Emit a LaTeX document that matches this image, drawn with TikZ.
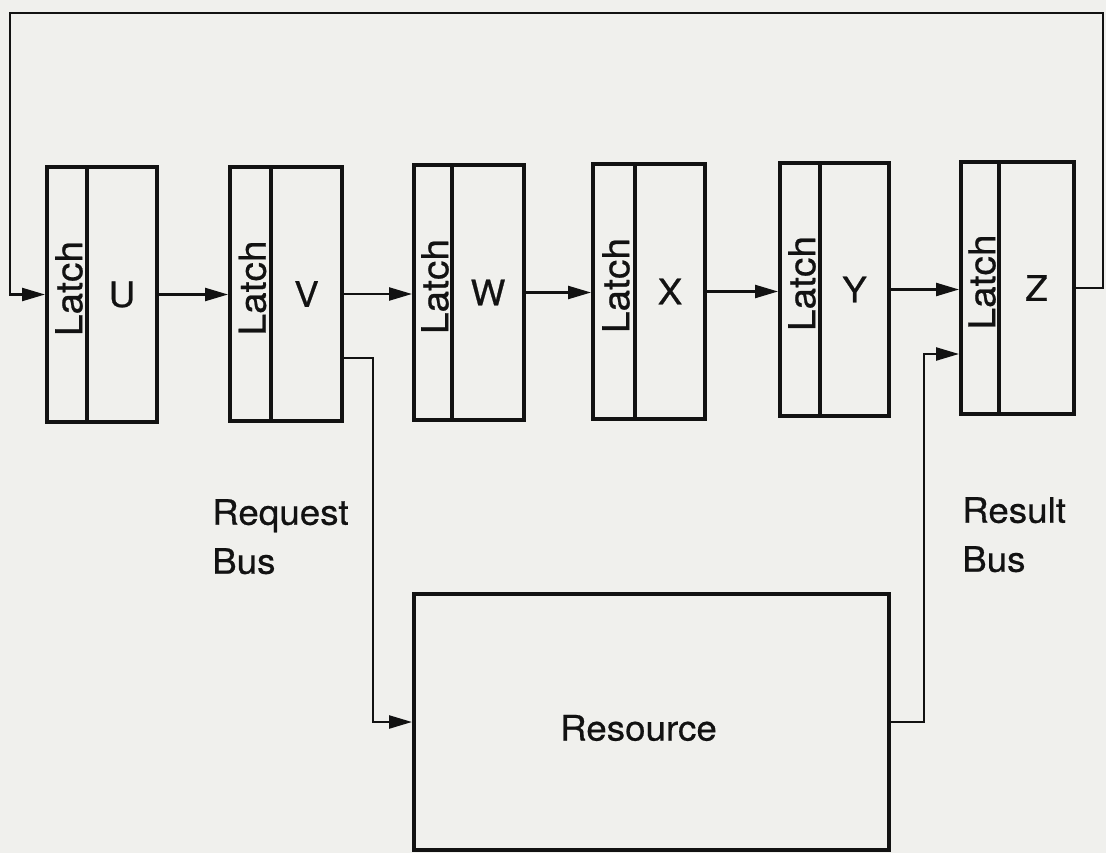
\documentclass[tikz,border=0pt]{standalone}
\usepackage{fontspec}
\setmainfont{TeX Gyre Heros}[FakeStretch=1.05,FakeBold=0.6]
\usetikzlibrary{arrows.meta,calc}
\definecolor{ink}{RGB}{18,18,18}
\definecolor{paper}{RGB}{240,240,237}
\tikzset{
  box/.style={draw=ink, line width=4pt, inner sep=0pt, text=ink,
    font=\fontsize{35}{42}\selectfont},
  latchtxt/.style={rotate=90, inner sep=0pt, text=ink,
    font=\fontsize{37}{42}\selectfont},
  conn/.style={draw=ink, line width=2.4pt,
    -{Triangle[length=23pt,width=13pt]}},
  lbl/.style={inner sep=0pt, text=ink, align=left,
    font=\fontsize{35}{49}\selectfont}
}
\newcommand{\mystage}[7]{%
  \node[box, minimum width={#4-#3}, minimum height={#7-#6}, anchor=north west] (#1L) at (#3,#6) {};
  \node[box, minimum width={#5-#4}, minimum height={#7-#6}, anchor=north west] (#1) at (#4,#6) {#2};
  \node[latchtxt] (#1t) at ($(#1L.center)+(2,-6)$) {Latch};
}
\begin{document}
\begin{tikzpicture}[x=1pt,y=-1pt]
\useasboundingbox[fill=paper] (0,0) rectangle (1106,853);
\mystage{U}{U}{45}{85}{155}{165}{420}
\mystage{V}{V}{228}{269}{340}{165}{419}
\mystage{W}{W}{412}{450}{522}{163}{418}
\mystage{X}{X}{591}{633}{703}{162}{417}
\mystage{Y}{Y}{778}{818}{887}{161}{414}
\mystage{Z}{Z}{959}{997}{1072}{160}{412}
\node[box, minimum width=475, minimum height=256, anchor=north west] (Res) at (412,592) {};
\node[box, draw=none] (restxt) at ($(Res.center)+(-13,6)$) {Resource};
% pipeline arrows
\draw[conn] (U.east) -- (U.east -| VL.west);
\draw[conn] (V.east) -- (V.east -| WL.west);
\draw[conn] (W.east) -- (W.east -| XL.west);
\draw[conn] (X.east) -- (X.east -| YL.west);
\draw[conn] (Y.east) -- (Y.east -| ZL.west);
% feedback loop
\coordinate (fbR) at (1103,13);
\coordinate (fbL) at (10,13);
\draw[conn] (Z.east) -| (fbR) -- (fbL) |- (UL.west);
% request bus
\coordinate (rq) at (373,358);
\draw[conn] (V.east |- rq) -- (rq) |- (Res.west);
% result bus
\coordinate (rs) at (924,354);
\draw[conn] (Res.east) -| (rs) -- (rs -| ZL.west);
% labels
\node[lbl, anchor=north west] (reqlbl) at (212,499) {Request\\Bus};
\node[lbl, anchor=north west] (reslbl) at (962,497) {Result\\Bus};
\end{tikzpicture}
\end{document}
